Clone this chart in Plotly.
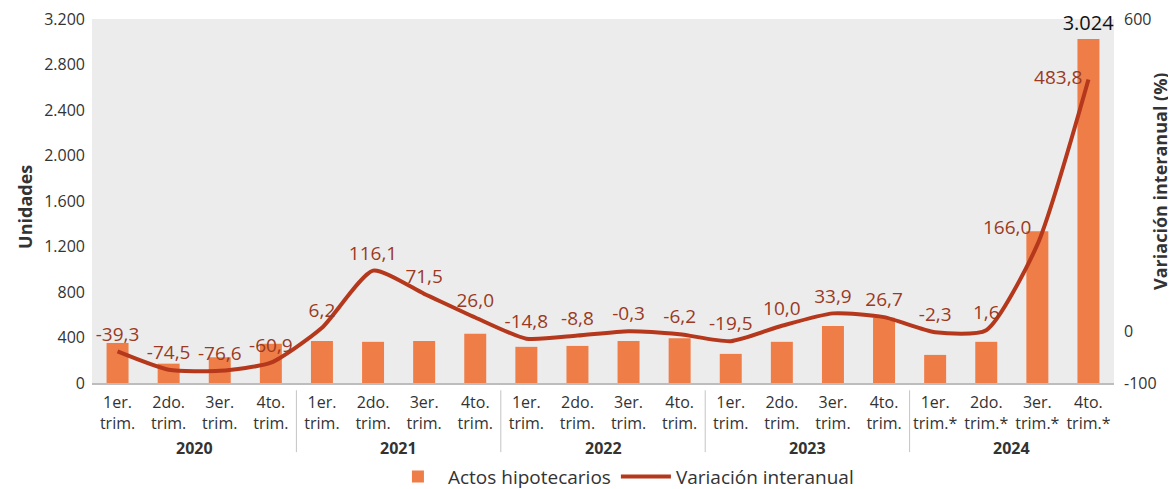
import plotly.graph_objects as go
import numpy as np

# ---- data ----
years = ["2020"] * 4 + ["2021"] * 4 + ["2022"] * 4 + ["2023"] * 4 + ["2024"] * 4
quarters = ["1er.<br>trim.", "2do.<br>trim.", "3er.<br>trim.", "4to.<br>trim."] * 4 + \
           ["1er.<br>trim.*", "2do.<br>trim.*", "3er.<br>trim.*", "4to.<br>trim.*"]
actos = [352, 170, 226, 345,
         370, 362, 370, 432,
         318, 326, 370, 394,
         256, 362, 502, 573,
         247, 362, 1333, 3024]
variacion = [-39.3, -74.5, -76.6, -60.9,
             6.2, 116.1, 71.5, 26.0,
             -14.8, -8.8, -0.3, -6.2,
             -19.5, 10.0, 33.9, 26.7,
             -2.3, 1.6, 166.0, 483.8]
left_ticks = [0, 400, 800, 1200, 1600, 2000, 2400, 2800, 3200]
right_ticks = [-100, 0, 600]

# ---- styling ----
FONT = "Open Sans"
TXT = "#333333"
BAR = "#EF7D47"
LINE = "#B5381C"
LBL = "#9A3A22"

idx = list(range(len(actos)))

def fmt_pct(v):
    return f"{v:.1f}".replace(".", ",")

def fmt_thousands(v):
    return f"{v:,}".replace(",", ".")

line_text = [fmt_pct(v) for v in variacion]
line_pos = ["top center"] * len(variacion)
line_pos[-2] = "top left"
line_pos[-1] = "middle left"

bar_text = [""] * (len(actos) - 1) + [fmt_thousands(actos[-1])]

fig = go.Figure()
fig.add_trace(go.Bar(
    x=idx, y=actos, name="Actos hipotecarios",
    marker=dict(color=BAR, line=dict(width=0)),
    text=bar_text, textposition="outside", constraintext="none",
    textfont=dict(family=FONT, size=20, color="#111111"),
    cliponaxis=False,
))
fig.add_trace(go.Scatter(
    x=idx, y=variacion, name="Variación interanual", yaxis="y2",
    mode="lines",
    line=dict(color=LINE, width=4, shape="spline", smoothing=0.6),
    cliponaxis=False,
))
# data labels of the line (transparent markers give the label offset)
fig.add_trace(go.Scatter(
    x=idx, y=variacion, yaxis="y2", showlegend=False, hoverinfo="skip",
    mode="markers+text",
    marker=dict(size=8, color="rgba(0,0,0,0)", line=dict(width=0)),
    text=line_text, textposition=line_pos,
    textfont=dict(family=FONT, size=19, color=LBL),
    cliponaxis=False,
))

# year group labels and separators (positions from the data arrays)
uniq_years = list(dict.fromkeys(years))
annotations = []
shapes = []
for k, yr in enumerate(uniq_years):
    ids = [i for i, y in enumerate(years) if y == yr]
    annotations.append(dict(
        x=float(np.mean(ids)), xref="x", y=-0.178, yref="paper",
        text=f"<b>{yr}</b>", showarrow=False, yanchor="middle",
        font=dict(family=FONT, size=16, color=TXT)))
    if k > 0:
        b = ids[0] - 0.5
        shapes.append(dict(type="line", xref="x", yref="paper",
                           x0=b, x1=b, y0=-0.02, y1=-0.19,
                           line=dict(color="#C4C4C4", width=1)))

annotations.append(dict(
    x=-0.0655, xref="paper", y=0.484, yref="paper", text="<b>Unidades</b>",
    textangle=-90, showarrow=False, xanchor="center", yanchor="middle",
    font=dict(family=FONT, size=18, color=TXT)))
annotations.append(dict(
    x=1.045, xref="paper", y=0.555, yref="paper",
    text="<b>Variación interanual (%)</b>",
    textangle=-90, showarrow=False, xanchor="center", yanchor="middle",
    font=dict(family=FONT, size=18, color=TXT)))

# page body has an 8px margin, so the figure is drawn 8px smaller and offset
fig.update_layout(
    width=1168, height=481,
    margin=dict(l=84, r=62, t=11, b=106, autoexpand=False),
    paper_bgcolor="white", plot_bgcolor="#ECECEC",
    separators=",.",
    font=dict(family=FONT, size=16, color=TXT),
    bargap=0.57,
    showlegend=True,
    legend=dict(orientation="h", x=0.52, xanchor="center", y=-0.205, yanchor="top",
                font=dict(family=FONT, size=19, color=TXT), itemwidth=50,
                traceorder="normal"),
    xaxis=dict(tickmode="array", tickvals=idx, ticktext=quarters,
               range=[-0.5, len(idx) - 0.5], showgrid=False, zeroline=False,
               showline=True, linecolor="#BDBDBD", linewidth=2, ticks="",
               ticklabelstandoff=4, automargin=False,
               tickfont=dict(family=FONT, size=16, color=TXT)),
    yaxis=dict(range=[0, 3200], tickmode="array", tickvals=left_ticks,
               tickformat=",.0f", showgrid=False, zeroline=False, showline=False,
               ticks="", ticklabelstandoff=6, automargin=False,
               ticklabeloverflow="allow",
               tickfont=dict(family=FONT, size=16, color=TXT)),
    yaxis2=dict(range=[-100, 600], overlaying="y", side="right", tickmode="array",
                tickvals=right_ticks, ticktext=[str(t) for t in right_ticks],
                showgrid=False, zeroline=False, showline=False, ticks="",
                ticklabelstandoff=9, automargin=False,
                ticklabeloverflow="allow",
                tickfont=dict(family=FONT, size=16, color=TXT)),
    annotations=annotations,
    shapes=shapes,
)

fig.write_html("out.html")
